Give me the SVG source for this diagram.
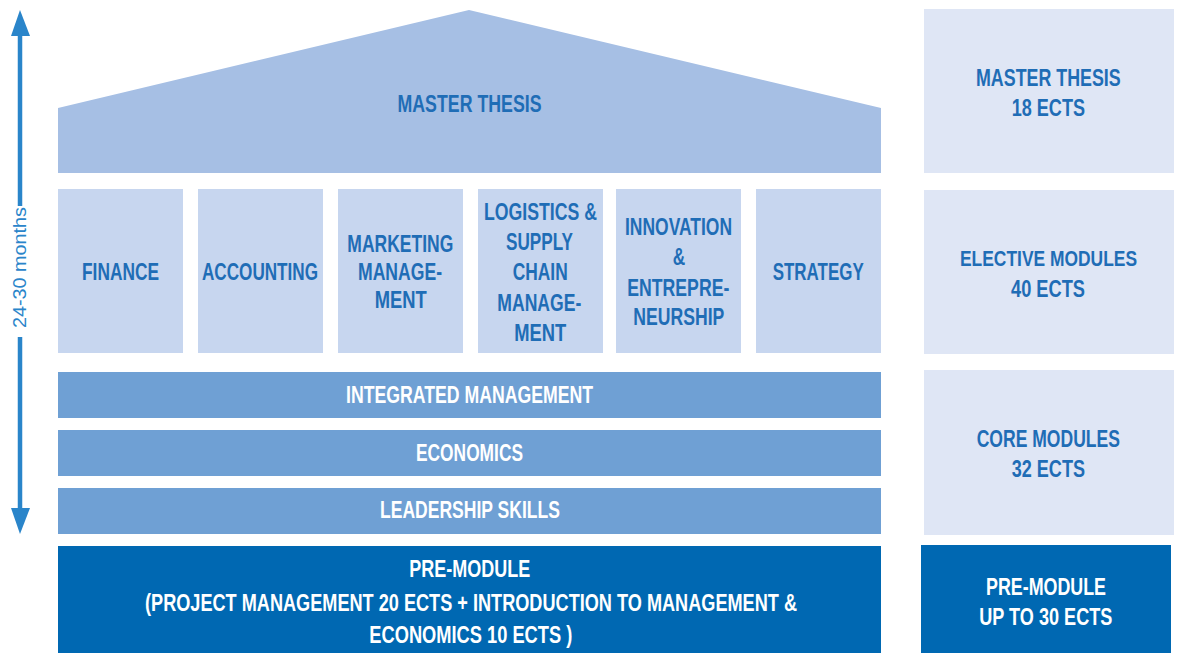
<svg xmlns="http://www.w3.org/2000/svg" width="1177" height="653" viewBox="0 0 1177 653">
<style>
.roof{fill:#A6BFE4}
.col{fill:#C7D6EF}
.bar{fill:#6FA0D4}
.pre{fill:#0068B2}
.side{fill:#DFE6F5}
.tb{font-family:"Liberation Sans",Arial,sans-serif;font-size:23px;font-weight:bold;fill:#1F6DB6}
.tw{font-family:"Liberation Sans",Arial,sans-serif;font-size:23px;font-weight:bold;fill:#FFFFFF}
.ax{stroke:#2A85CA;stroke-width:4.5;fill:none}
.ah{fill:#2A85CA}
.am{font-family:"Liberation Sans",Arial,sans-serif;font-size:18px;fill:#2A85CA}
</style>
<rect width="1177" height="653" fill="#FFFFFF"/>
<g id="master-thesis">
<polygon class="roof" points="58,108 469,10 881,108 881,173 58,173"/>
<text class="tb" x="397.5" y="111.5" textLength="144" lengthAdjust="spacingAndGlyphs">MASTER THESIS</text>
</g>
<g id="finance">
<rect class="col" x="58" y="189" width="125" height="164"/>
<text class="tb" x="82" y="280" textLength="77" lengthAdjust="spacingAndGlyphs">FINANCE</text>
</g>
<g id="accounting">
<rect class="col" x="198" y="189" width="125" height="164"/>
<text class="tb" x="202" y="280" textLength="116" lengthAdjust="spacingAndGlyphs">ACCOUNTING</text>
</g>
<g id="marketing">
<rect class="col" x="338" y="189" width="125" height="164"/>
<text class="tb" x="347.3" y="251.7" textLength="106" lengthAdjust="spacingAndGlyphs">MARKETING</text>
<text class="tb" x="358" y="280" textLength="84" lengthAdjust="spacingAndGlyphs">MANAGE-</text>
<text class="tb" x="374.7" y="307.7" textLength="52" lengthAdjust="spacingAndGlyphs">MENT</text>
</g>
<g id="logistics">
<rect class="col" x="478" y="189" width="125" height="164"/>
<text class="tb" x="484" y="220" textLength="113" lengthAdjust="spacingAndGlyphs">LOGISTICS &amp;</text>
<text class="tb" x="506" y="250" textLength="67" lengthAdjust="spacingAndGlyphs">SUPPLY</text>
<text class="tb" x="512.7" y="280" textLength="55" lengthAdjust="spacingAndGlyphs">CHAIN</text>
<text class="tb" x="497.3" y="311" textLength="84" lengthAdjust="spacingAndGlyphs">MANAGE-</text>
<text class="tb" x="514.3" y="341" textLength="52" lengthAdjust="spacingAndGlyphs">MENT</text>
</g>
<g id="innovation">
<rect class="col" x="616" y="189" width="125" height="164"/>
<text class="tb" x="625" y="235" textLength="107" lengthAdjust="spacingAndGlyphs">INNOVATION</text>
<text class="tb" x="672.7" y="265" textLength="12.5" lengthAdjust="spacingAndGlyphs">&amp;</text>
<text class="tb" x="627.3" y="295.7" textLength="102" lengthAdjust="spacingAndGlyphs">ENTREPRE-</text>
<text class="tb" x="633.3" y="325" textLength="91" lengthAdjust="spacingAndGlyphs">NEURSHIP</text>
</g>
<g id="strategy">
<rect class="col" x="756" y="189" width="125" height="164"/>
<text class="tb" x="772.7" y="280" textLength="91" lengthAdjust="spacingAndGlyphs">STRATEGY</text>
</g>
<g id="integrated-management">
<rect class="bar" x="58" y="372" width="823" height="46"/>
<text class="tw" x="346" y="403.3" textLength="247" lengthAdjust="spacingAndGlyphs">INTEGRATED MANAGEMENT</text>
</g>
<g id="economics">
<rect class="bar" x="58" y="430" width="823" height="46"/>
<text class="tw" x="416" y="460.7" textLength="107" lengthAdjust="spacingAndGlyphs">ECONOMICS</text>
</g>
<g id="leadership-skills">
<rect class="bar" x="58" y="488" width="823" height="46"/>
<text class="tw" x="380" y="518.3" textLength="180" lengthAdjust="spacingAndGlyphs">LEADERSHIP SKILLS</text>
</g>
<g id="pre-module">
<rect class="pre" x="58" y="546" width="823" height="107"/>
<text class="tw" x="409.3" y="577.3" textLength="121" lengthAdjust="spacingAndGlyphs">PRE-MODULE</text>
<text class="tw" x="145" y="610.5" textLength="652" lengthAdjust="spacingAndGlyphs">(PROJECT MANAGEMENT 20 ECTS + INTRODUCTION TO MANAGEMENT &amp;</text>
<text class="tw" x="369.3" y="642.7" textLength="203" lengthAdjust="spacingAndGlyphs">ECONOMICS 10 ECTS )</text>
</g>
<g id="side-master-thesis">
<rect class="side" x="924" y="9" width="250" height="164"/>
<text class="tb" x="976" y="85.7" textLength="144.7" lengthAdjust="spacingAndGlyphs">MASTER THESIS</text>
<text class="tb" x="1011.7" y="115.7" textLength="73.3" lengthAdjust="spacingAndGlyphs">18 ECTS</text>
</g>
<g id="side-elective">
<rect class="side" x="924" y="190" width="250" height="164"/>
<text class="tb" x="960" y="265.7" textLength="177" lengthAdjust="spacingAndGlyphs" style="font-size:22px">ELECTIVE MODULES</text>
<text class="tb" x="1011" y="296.7" textLength="74" lengthAdjust="spacingAndGlyphs">40 ECTS</text>
</g>
<g id="side-core">
<rect class="side" x="924" y="370" width="250" height="165"/>
<text class="tb" x="976.7" y="447.3" textLength="143.3" lengthAdjust="spacingAndGlyphs">CORE MODULES</text>
<text class="tb" x="1011.7" y="476.7" textLength="73.3" lengthAdjust="spacingAndGlyphs">32 ECTS</text>
</g>
<g id="side-pre-module">
<rect class="pre" x="921" y="545" width="250" height="108"/>
<text class="tw" x="986" y="595.3" textLength="120" lengthAdjust="spacingAndGlyphs">PRE-MODULE</text>
<text class="tw" x="979.3" y="625" textLength="133" lengthAdjust="spacingAndGlyphs">UP TO 30 ECTS</text>
</g>
<g id="connectors">
<line class="ax" x1="20" y1="34" x2="20" y2="206"/>
<line class="ax" x1="20" y1="337" x2="20" y2="510"/>
<polygon class="ah" points="20,10 11,36 30,36"/>
<polygon class="ah" points="20,534 11,508 30,508"/>
<text class="am" transform="translate(25.5,328) rotate(-90)" x="0" y="0" textLength="121" lengthAdjust="spacingAndGlyphs">24-30 months</text>
</g>
</svg>
